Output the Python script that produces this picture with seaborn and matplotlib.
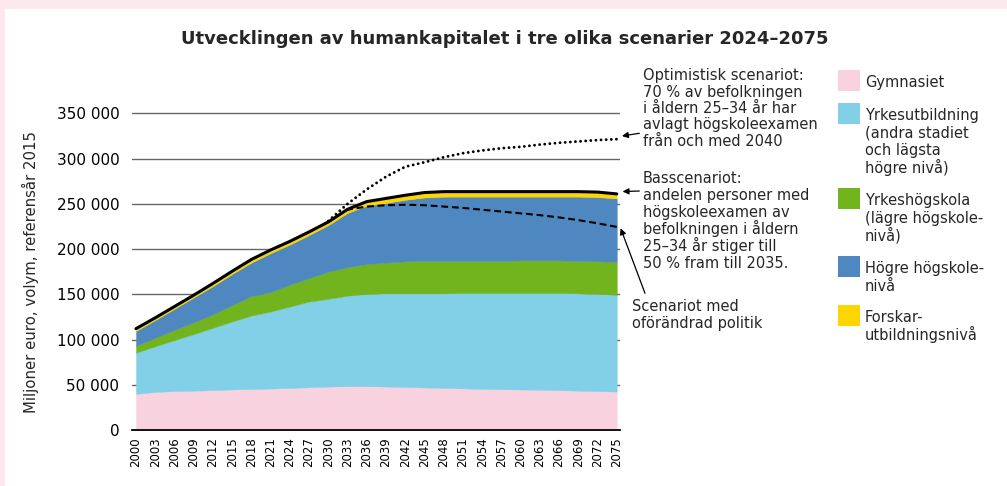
import numpy as np
import pandas as pd
import matplotlib.pyplot as plt
import seaborn as sns
from matplotlib.patches import Rectangle
from matplotlib.ticker import FuncFormatter

# values in miljoner euro (basscenariot, stacked)
years = list(range(2000, 2076, 3))
gymnasiet = [40, 42, 43, 43.5, 44, 44.8, 45.3, 45.8, 46.4, 47.2, 48, 48.5, 48.5,
             48, 47.5, 47, 46.5, 46, 45.5, 45, 44.8, 44.5, 44, 43.5, 43, 42.5]
yrkesutb = [45.5, 50.5, 56.5, 62.5, 69, 75.2, 81.2, 85.2, 90.1, 94.8, 97, 100, 102,
            103, 103.5, 104, 104.5, 105.5, 106, 106.5, 106.7, 107, 107.5, 107.5, 107.5, 107]
yrkeshogskola = [7.5, 9.5, 11, 13, 15, 18, 21.5, 21.5, 24, 26, 30, 31.5, 33,
                 34, 35.5, 36, 36, 35.5, 35.5, 35.5, 36, 36, 36, 36, 36, 36.5]
hogre = [16.5, 19.5, 23.5, 27.5, 31, 34.5, 37, 43, 44.5, 47.5, 51.5, 60, 64.5,
         66, 68, 70, 71, 71, 71, 71, 70.5, 70.5, 70.5, 71, 71, 70]
forskar = [2.5, 2.5, 2.5, 2.5, 3, 3, 3.5, 3.5, 3.5, 3.5, 3.5, 4, 4.5,
           5, 5, 5.5, 5.5, 5.5, 5.5, 5.5, 5.5, 5.5, 5.5, 5.5, 5.5, 5]

scen_years = years[10:]
oforandrad = [230, 243.5, 247, 248.5, 249, 248.5, 247, 245.5, 243.5, 241.5, 239.5,
              237.5, 235, 232, 228.5, 224.5]
optimistisk = [231, 250, 266, 280, 291, 296, 301.5, 306, 309, 311.5, 313, 315.5,
               317.5, 319, 320.5, 321.5]

labels = ["Gymnasiet",
          "Yrkesutbildning\n(andra stadiet\noch lägsta\nhögre nivå)",
          "Yrkeshögskola\n(lägre högskole-\nnivå)",
          "Högre högskole-\nnivå",
          "Forskar-\nutbildningsnivå"]
colors = ["#f8d3df", "#82cfe8", "#72b41e", "#4f87c1", "#ffd500"]

series = [np.array(s) * 1000 for s in [gymnasiet, yrkesutb, yrkeshogskola, hogre, forskar]]
total = np.sum(series, axis=0)

sns.set_theme(style="white")
plt.rcParams["font.family"] = ["DejaVu Sans"]

W, H = 1007, 486
def fp(x, y):
    return (x / W, 1 - y / H)

def text_lines(x, y0, txt, pitch, **kw):
    # one fig.text per line so baselines sit exactly where the reference has them
    for i, line in enumerate(txt.split("\n")):
        fig.text(*fp(x, y0 + i * pitch), line, ha="left", va="baseline", **kw)

fig = plt.figure(figsize=(W / 100, H / 100), dpi=100)
fig.patch.set_facecolor("#fde8ee")
fig.add_artist(Rectangle((5 / W, 0), 1, (H - 9) / H, transform=fig.transFigure,
                         facecolor="white", edgecolor="none", zorder=-5))

ytop = 352000
ax = fig.add_axes([132 / W, 1 - 430 / H, 488 / W, (ytop / 1000 * 0.9046) / H])
ax.set_facecolor("none")

ax.stackplot(years, *series, colors=colors, edgecolor="face", linewidth=0.3, zorder=2)
sns.lineplot(x=years, y=total, color="black", lw=2.2, ax=ax, zorder=4)
sns.lineplot(x=scen_years, y=np.array(oforandrad) * 1000, color="black", lw=1.5,
             linestyle=(0, (3.3, 1.8)), ax=ax, zorder=5)
sns.lineplot(x=scen_years, y=np.array(optimistisk) * 1000, color="black", lw=2.1,
             linestyle=(0, (0.01, 1.75)), dash_capstyle="round", ax=ax, zorder=5)

ax.set_xlim(1999.38, 2075.5)
ax.set_ylim(0, ytop)
ax.set_xticks(years)
ax.set_xticklabels([str(y) for y in years], rotation=90, fontsize=8.5)
ax.set_yticks(range(0, 350001, 50000))
ax.yaxis.set_major_formatter(FuncFormatter(lambda v, p: f"{int(v):,}".replace(",", " ")))
ax.tick_params(axis="y", length=0, pad=9, labelsize=11, colors="black")
ax.tick_params(axis="x", length=0, pad=5, colors="black")
ax.yaxis.grid(True, color="#666666", lw=1)
ax.xaxis.grid(False)
ax.set_axisbelow(True)
for s in ["top", "right", "left"]:
    ax.spines[s].set_visible(False)
ax.spines["bottom"].set_color("black")
ax.spines["bottom"].set_linewidth(1.3)
ax.spines["bottom"].set_zorder(6)
ax.set_xlabel("")
ax.set_ylabel("")
fig.text(*fp(30, 272), "Miljoner euro, volym, referensår 2015", rotation=90,
         ha="center", va="center", fontsize=10.7)

fig.text(*fp(504.5, 44), "Utvecklingen av humankapitalet i tre olika scenarier 2024–2075",
         ha="center", va="baseline", fontsize=13, fontweight="bold")

# scenario notes
text_lines(642.7, 80, "Optimistisk scenariot:\n70 % av befolkningen\ni åldern 25–34 år har\n"
           "avlagt högskoleexamen\nfrån och med 2040", 16.5, fontsize=10.5)
text_lines(642.7, 183.3, "Basscenariot:\nandelen personer med\nhögskoleexamen av\n"
           "befolkningen i åldern\n25–34 år stiger till\n50 % fram till 2035.", 17, fontsize=10.5)
text_lines(631.7, 311, "Scenariot med\noförändrad politik", 16.8, fontsize=10.5)

arrow = dict(arrowstyle="-|>", color="black", lw=0.9, mutation_scale=9, shrinkA=0, shrinkB=0)
for tip, tail in [((2075.8, 325000), (639.3, 133.3)),
                  ((2075.9, 263600), (639.3, 191)),
                  ((2075.6, 223000), (645, 293.3))]:
    ax.annotate("", xy=tip, xycoords="data", xytext=fp(*tail), textcoords="figure fraction",
                arrowprops=arrow, annotation_clip=False)

# legend
leg_tops = [70, 103.3, 188, 256, 305]
for top, lab, col in zip(leg_tops, labels, colors):
    fig.add_artist(Rectangle(fp(838.3, top + 21), 21.7 / W, 21 / H, transform=fig.transFigure,
                             facecolor=col, edgecolor="none"))
    text_lines(865, top + 17, lab, 17.6, fontsize=10.5)

fig.savefig("out.png", dpi=100, facecolor=fig.get_facecolor())
